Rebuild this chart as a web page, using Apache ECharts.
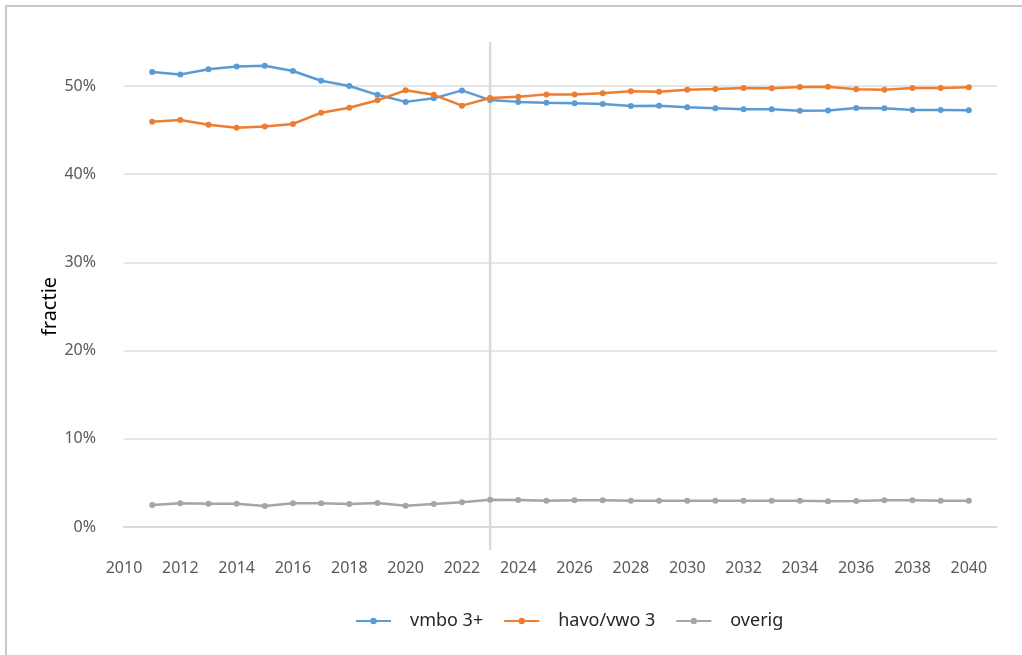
<!DOCTYPE html>
<html lang="nl">
<head>
  <meta charset="UTF-8">
  <title>fractie</title>
  <style>
    html, body { margin: 0; padding: 0; background: #fff; }
    #chart { width: 1022px; height: 655px; }
  </style>
  <script src="https://cdn.jsdelivr.net/npm/echarts@6/dist/echarts.min.js"></script>
</head>
<body>
<div id="chart"></div>
<script>
  // jaren en fracties per groep
  const years = [2011, 2012, 2013, 2014, 2015, 2016, 2017, 2018, 2019, 2020,
    2021, 2022, 2023, 2024, 2025, 2026, 2027, 2028, 2029, 2030,
    2031, 2032, 2033, 2034, 2035, 2036, 2037, 2038, 2039, 2040]
  const vmbo = [0.516, 0.513, 0.519, 0.522, 0.523, 0.517, 0.506, 0.500, 0.490, 0.482,
    0.486, 0.495, 0.484, 0.482, 0.481, 0.4805, 0.4795, 0.4773, 0.4777, 0.4758,
    0.4747, 0.4736, 0.4736, 0.472, 0.4722, 0.475, 0.4747, 0.4728, 0.4728, 0.4724]
  const havo = [0.4595, 0.4615, 0.456, 0.4527, 0.454, 0.457, 0.4697, 0.4754, 0.4838, 0.4951,
    0.490, 0.4777, 0.4864, 0.4879, 0.4905, 0.4905, 0.4917, 0.494, 0.4936, 0.4958,
    0.4966, 0.4978, 0.4974, 0.4989, 0.4992, 0.4962, 0.4958, 0.4977, 0.4977, 0.4985]
  const overig = [0.0249, 0.0268, 0.0264, 0.0264, 0.0238, 0.0268, 0.0268, 0.026, 0.0272, 0.0242,
    0.026, 0.028, 0.031, 0.0306, 0.0299, 0.0302, 0.0302, 0.0299, 0.0299, 0.0299,
    0.0299, 0.0299, 0.0299, 0.0299, 0.0291, 0.0295, 0.0302, 0.0302, 0.0299, 0.0299]
  // scheiding realisatie / prognose
  const splitYear = 2023
  const splitRange = [-0.026, 0.55]

  const font = 'Noto Sans'
  const pair = arr => years.map((y, i) => [y, arr[i]])

  const chart = echarts.init(document.getElementById('chart'))
  const lineSeries = (name, data, color) => ({
    name: name,
    type: 'line',
    data: pair(data),
    symbol: 'circle',
    symbolSize: 6,
    clip: false,
    color: color,
    lineStyle: { width: 2.5, color: color },
    itemStyle: { color: color },
    z: 3
  })

  chart.setOption({
    animation: false,
    textStyle: { fontFamily: font },
    graphic: [
      { type: 'line', shape: { x1: 5, y1: 6, x2: 1022, y2: 6 }, style: { stroke: '#c8c8c8', lineWidth: 2 } },
      { type: 'line', shape: { x1: 6, y1: 5, x2: 6, y2: 655 }, style: { stroke: '#c8c8c8', lineWidth: 2 } }
    ],
    grid: { left: 124, right: 25, top: 86, bottom: 128 },
    legend: {
      left: 350,
      top: 607,
      itemWidth: 35,
      itemHeight: 8,
      itemGap: 20,
      textStyle: { fontSize: 18, color: '#262626', fontFamily: font, padding: [0, 0, 0, 14] },
      data: ['vmbo 3+', 'havo/vwo 3', 'overig']
    },
    xAxis: {
      type: 'value',
      min: 2010,
      max: 2041,
      interval: 2,
      axisLine: { show: true, lineStyle: { color: '#d9d9d9', width: 2 } },
      axisTick: { show: false },
      splitLine: { show: false },
      axisLabel: {
        margin: 33, fontSize: 16, color: '#595959', showMaxLabel: false,
        formatter: v => String(v)
      }
    },
    yAxis: {
      type: 'value',
      min: 0,
      max: 0.5,
      interval: 0.1,
      name: 'fractie',
      nameLocation: 'middle',
      nameGap: 64,
      nameMoveOverlap: false,
      nameTextStyle: { fontSize: 20, color: '#000' },
      axisLine: { show: false },
      axisTick: { show: false },
      splitLine: { lineStyle: { color: '#e6e6e6', width: 2 } },
      axisLabel: {
        margin: 28, fontSize: 16, color: '#595959',
        formatter: v => Math.round(v * 100) + '%'
      }
    },
    series: [
      {
        name: 'scheiding',
        type: 'line',
        data: splitRange.map(v => [splitYear, v]),
        symbol: 'none',
        clip: false,
        silent: true,
        lineStyle: { color: '#d9d9d9', width: 2.5 },
        z: 1
      },
      lineSeries('vmbo 3+', vmbo, '#5B9BD5'),
      lineSeries('havo/vwo 3', havo, '#ED7D31'),
      lineSeries('overig', overig, '#A5A5A5')
    ]
  })
</script>
</body>
</html>
